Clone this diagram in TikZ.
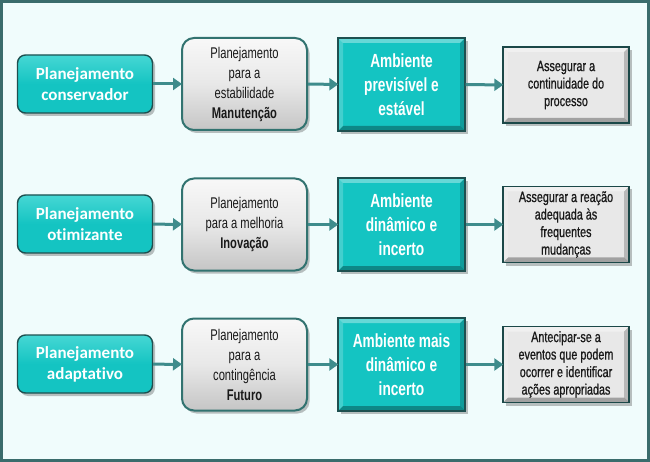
\documentclass[tikz,border=0pt]{standalone}
\usepackage{fontspec}
\usetikzlibrary{arrows.meta,shadows}
\setmainfont{Liberation Sans}
\newfontfamily\calfont[Ligatures=NoCommon]{Carlito}
\newfontfamily\narrowfont[FakeStretch=0.72]{Liberation Sans}
\newfontfamily\narrowmed[FakeStretch=0.72,FakeBold=0.8]{Liberation Sans}
\definecolor{framec}{RGB}{58,108,108}
\definecolor{bgc}{RGB}{240,252,252}
\definecolor{tealc}{RGB}{20,196,194}
\definecolor{tealtop}{RGB}{70,215,212}
\definecolor{tealdark}{RGB}{30,80,80}
\definecolor{greyc}{RGB}{232,232,232}
\definecolor{greytop}{RGB}{248,248,248}
\definecolor{arrowc}{RGB}{62,140,140}
\definecolor{bborder}{RGB}{50,115,112}
\definecolor{txtc}{RGB}{25,25,25}
\tikzset{
  shad/.style={drop shadow={shadow xshift=2.5pt,shadow yshift=-3pt,opacity=0.35,fill=black!70}},
  planbox/.style={rounded corners=8pt, draw=tealdark, line width=1.4pt, top color=tealtop, bottom color=tealc, middle color=tealc, shad,
    minimum width=135pt, minimum height=58pt, inner sep=0pt, align=center, text=white,
    font=\calfont\bfseries\fontsize{17}{21}\selectfont},
  metabox/.style={rounded corners=12pt, draw=bborder, line width=2pt, top color=greytop, bottom color=greyc!85!black, middle color=greyc, shad,
    minimum width=125pt, minimum height=92pt, inner sep=0pt, align=center, text=txtc,
    font=\narrowfont\fontsize{15.5}{20}\selectfont},
  bevel/.style={path picture={
      \fill[white,opacity=0.35] (path picture bounding box.north west) -- (path picture bounding box.north east)
        -- ([xshift=-5pt,yshift=-5pt]path picture bounding box.north east) -- ([xshift=5pt,yshift=-5pt]path picture bounding box.north west) -- cycle;
      \fill[white,opacity=0.2] (path picture bounding box.north west) -- ([xshift=5pt,yshift=-5pt]path picture bounding box.north west)
        -- ([xshift=5pt,yshift=5pt]path picture bounding box.south west) -- (path picture bounding box.south west) -- cycle;
      \fill[black,opacity=0.3] (path picture bounding box.south west) -- (path picture bounding box.south east)
        -- ([xshift=-5pt,yshift=5pt]path picture bounding box.south east) -- ([xshift=5pt,yshift=5pt]path picture bounding box.south west) -- cycle;
      \fill[black,opacity=0.2] (path picture bounding box.north east) -- ([xshift=-5pt,yshift=-5pt]path picture bounding box.north east)
        -- ([xshift=-5pt,yshift=5pt]path picture bounding box.south east) -- (path picture bounding box.south east) -- cycle;
  }},
  envbox/.style={draw=tealdark, line width=1.4pt, fill=tealc, bevel, shad,
    minimum width=127pt, minimum height=93pt, inner sep=0pt, align=center, text=white,
    font=\narrowfont\bfseries\fontsize{19}{24}\selectfont},
  goalbox/.style={draw=tealdark!90!black, line width=1.4pt, fill=greyc, bevel, shad,
    minimum width=126pt, minimum height=76pt, inner sep=0pt, align=center, text=txtc,
    font=\narrowmed\fontsize{15}{17.5}\selectfont},
  conn/.style={draw=arrowc, line width=3pt, -{Triangle[length=9pt,width=12pt]}, shorten >=-1pt}
}
\begin{document}
\begin{tikzpicture}[x=1pt,y=-1pt]
\useasboundingbox (0,0) rectangle (650,462);
\draw[draw=framec, line width=3pt, fill=bgc] (1.5,1.5) rectangle (648.5,460.5);

% row 1
\node[planbox] (a1) at (85,84) {Planejamento\\conservador};
\node[metabox] (b1) at (244.5,84) {Planejamento\\para a\\estabilidade\\\textbf{Manutenção}};
\node[envbox] (c1) at (401.5,84.5) {Ambiente\\previsível e\\estável};
\node[goalbox] (d1) at (566,85) {Assegurar a\\continuidade do\\processo};
% row 2
\node[planbox] (a2) at (85,224) {Planejamento\\otimizante};
\node[metabox] (b2) at (244.5,224.5) {Planejamento\\para a melhoria\\\textbf{Inovação}};
\node[envbox] (c2) at (401.5,224.5) {Ambiente\\dinâmico e\\incerto};
\node[goalbox] (d2) at (566,224.5) {Assegurar a reação\\adequada às\\frequentes\\mudanças};
% row 3
\node[planbox] (a3) at (85,364) {Planejamento\\adaptativo};
\node[metabox] (b3) at (244.5,364.5) {Planejamento\\para a\\contingência\\\textbf{Futuro}};
\node[envbox] (c3) at (401.5,364.5) {Ambiente mais\\dinâmico e\\incerto};
\node[goalbox] (d3) at (566,364.5) {Antecipar-se a\\eventos que podem\\ocorrer e identificar\\ações apropriadas};

\foreach \r in {1,2,3}{
  \draw[conn] (a\r) -- (b\r);
  \draw[conn] (b\r) -- (c\r);
  \draw[conn] (c\r) -- (d\r);
}
\end{tikzpicture}
\end{document}
